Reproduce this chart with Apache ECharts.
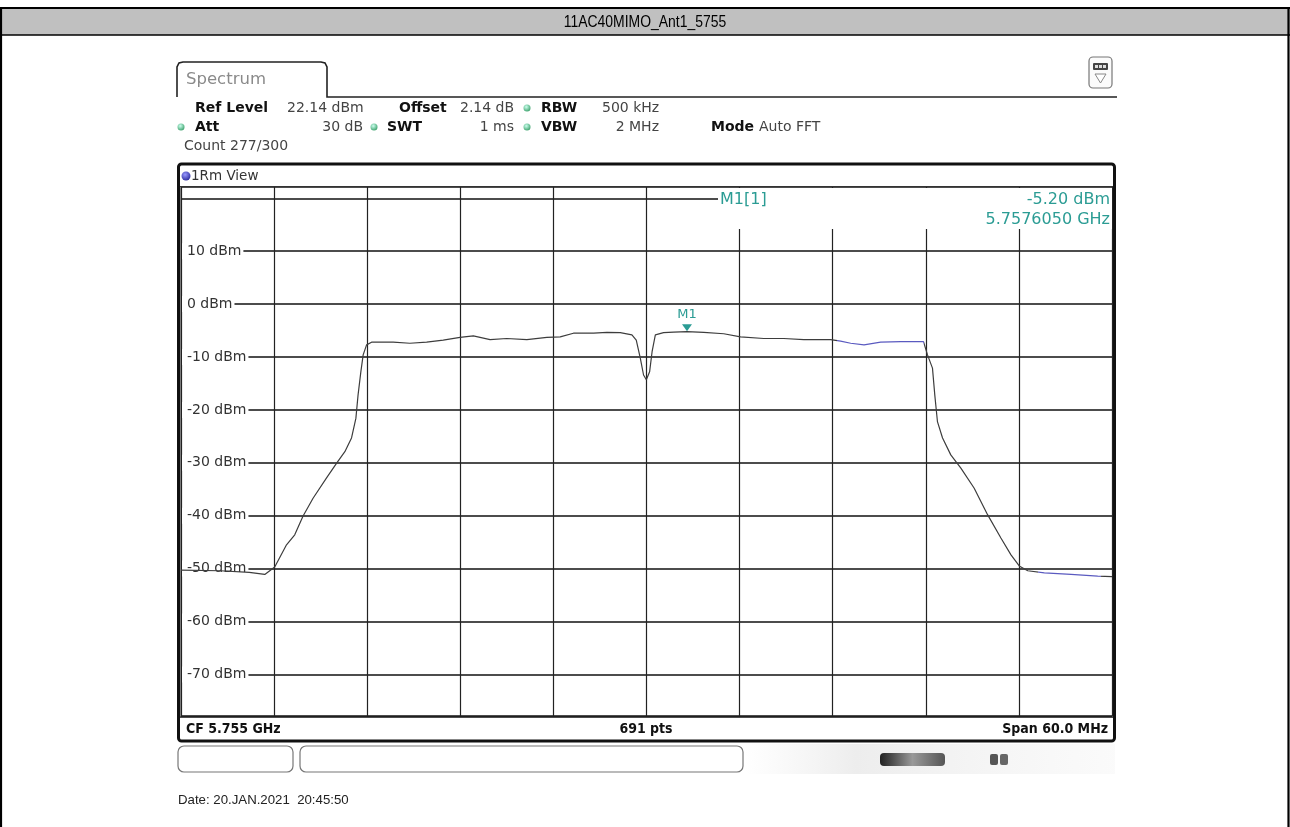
<!DOCTYPE html>
<html><head><meta charset="utf-8">
<script src="https://cdn.jsdelivr.net/npm/echarts@6/dist/echarts.min.js"></script>
<style>html,body{margin:0;padding:0;background:#fff}#c{width:1290px;height:827px}</style>
</head><body><div id="c"></div><script>
// ---- data ----
const chartTitle = '11AC40MIMO_Ant1_5755';
const freqOffsetMHz = [-30, -27.5, -25.6, -24.6, -23.96, -23.2, -22.67, -22.14, -21.49, -20.63,
  -19.98, -19.44, -19.01, -18.73, -18.59, -18.41, -18.26, -18.04, -17.72, -16.33,
  -15.25, -14.17, -13.1, -12.02, -11.16, -10.08, -9.01, -7.71, -6.42, -5.56,
  -4.71, -3.41, -2.55, -1.69, -0.94, -0.66, -0.4, -0.19, -0.01, 0.2,
  0.36, 0.57, 1.1, 1.75, 2.61, 3.69, 4.98, 6.06, 7.56, 8.85,
  10.14, 11.87, 12.51, 13.16, 14.02, 15.09, 16.39, 17.85, 18.11, 18.43,
  18.58, 18.75, 19.08, 19.61, 20.26, 21.12, 21.98, 22.84, 23.49, 24.02,
  24.57, 25.64, 27.36, 29.08, 30];
const levelDbm = [-50.3, -50.4, -50.7, -51.1, -49.7, -45.5, -43.6, -40.1, -36.7, -32.9,
  -30.1, -27.9, -25.3, -21.6, -17.2, -12.8, -9.6, -7.7, -7.2, -7.2,
  -7.4, -7.2, -6.8, -6.3, -6.0, -6.7, -6.5, -6.7, -6.3, -6.2,
  -5.5, -5.5, -5.35, -5.4, -5.8, -6.8, -10.2, -13.4, -14.3, -12.8,
  -9.0, -5.8, -5.4, -5.3, -5.2, -5.35, -5.6, -6.2, -6.5, -6.5,
  -6.7, -6.7, -7.0, -7.4, -7.7, -7.2, -7.1, -7.1, -9.6, -12.1,
  -17.2, -22.2, -25.3, -28.5, -31.0, -34.8, -39.8, -44.2, -47.4, -49.5,
  -50.4, -50.8, -51.1, -51.4, -51.5];
const yLabelValues = [10, 0, -10, -20, -30, -40, -50, -60, -70];
const refLevelDbm = 22.14;
const rangeDb = 100;
const spanMHz = 60;
const divMHz = 6;
const marker = { name: 'M1', offsetMHz: 2.61, level: -5.20, readLevel: '-5.20 dBm', readFreq: '5.7576050 GHz' };
const blueRangesMHz = [[12.3, 17.9], [25.2, 29.3]];
const infoTexts = {
  refLevel: '22.14 dBm', offset: '2.14 dB', rbw: '500 kHz', att: '30 dB', swt: '1 ms',
  vbw: '2 MHz', mode: 'Auto FFT', count: 'Count 277/300', view: '1Rm View',
  cf: 'CF 5.755 GHz', pts: '691 pts', span: 'Span 60.0 MHz', date: 'Date: 20.JAN.2021  20:45:50'
};

// ---- build ----
const traceData = freqOffsetMHz.map((f, i) => [f, levelDbm[i]]);
const TEAL = '#2b9c94';
const FONT = "'DejaVu Sans', sans-serif";
const COND = "'DejaVu Sans Condensed', 'DejaVu Sans', sans-serif";
const ARIAL = "'Liberation Sans', Arial, sans-serif";
const G = [];
function txt(x, y, t, font, fill, align, z, sx) {
  G.push({ type: 'text', x: x, y: y, z: z || 30, silent: true, scaleX: sx || 1,
    style: { text: t, font: font, fill: fill || '#222', align: align || 'left', verticalAlign: 'middle',
      textAlign: align || 'left', textVerticalAlign: 'middle' } });
}
function rect(x, y, w, h, style, r, z) {
  G.push({ type: 'rect', z: z || 20, silent: true, shape: { x: x, y: y, width: w, height: h, r: r || 0 }, style: style });
}
function line(x1, y1, x2, y2, stroke, lw, z) {
  G.push({ type: 'line', z: z || 20, silent: true, shape: { x1: x1, y1: y1, x2: x2, y2: y2 }, style: { stroke: stroke, lineWidth: lw } });
}
function dot(x, y, color, r) {
  G.push({ type: 'circle', z: 30, silent: true, shape: { cx: x, cy: y, r: r || 3.5 },
    style: { fill: { type: 'radial', x: 0.4, y: 0.35, r: 0.7, colorStops: [{ offset: 0, color: '#cfe' }, { offset: 1, color: color }] } } });
}

// outer table with title band
rect(0, 8, 1290, 27, { fill: '#c0c0c0' }, 0, 1);
line(0, 8, 1290, 8, '#000', 2.2, 2);
line(0, 35, 1290, 35, '#000', 1.6, 2);
line(1, 8, 1, 827, '#000', 2.2, 2);
line(1288.5, 8, 1288.5, 827, '#000', 2.2, 2);
txt(645, 22, chartTitle, '17px ' + ARIAL, '#000', 'center', 30, 0.82);

// spectrum tab
G.push({ type: 'polyline', z: 20, silent: true,
  shape: { points: [[177, 97], [177, 67], [179, 63], [183, 62], [321, 62], [325, 63], [327, 67], [327, 97], [1117, 97]] },
  style: { stroke: '#222', lineWidth: 1.6, fill: null } });
txt(186, 80, 'Spectrum', '16.5px ' + FONT, '#8a8a8a');
// top right icon
rect(1089, 57, 23, 31, { stroke: '#777', lineWidth: 1.2, fill: '#fbfbfb' }, 4);
rect(1093, 63, 15, 7, { fill: '#444' }, 1, 21);
rect(1095, 65, 3, 3, { fill: '#ddd' }, 0, 22);
rect(1099, 65, 3, 3, { fill: '#ddd' }, 0, 22);
rect(1103, 65, 3, 3, { fill: '#ddd' }, 0, 22);
G.push({ type: 'polygon', z: 22, silent: true, shape: { points: [[1095, 74], [1106, 74], [1100.5, 83]] }, style: { stroke: '#888', fill: '#fff', lineWidth: 1 } });

// info rows
const B = 'bold 14px ' + FONT, N = '14px ' + FONT;
txt(195, 108, 'Ref Level', B, '#111');
txt(287, 108, infoTexts.refLevel, N, '#444');
txt(399, 108, 'Offset', B, '#111');
txt(460, 108, infoTexts.offset, N, '#444');
dot(527, 108, '#3aa06a');
txt(541, 108, 'RBW', B, '#111');
txt(602, 108, infoTexts.rbw, N, '#444');
dot(181, 127, '#3aa06a');
txt(195, 127, 'Att', B, '#111');
txt(363, 127, infoTexts.att, N, '#444', 'right');
dot(374, 127, '#3aa06a');
txt(387, 127, 'SWT', B, '#111');
txt(514, 127, infoTexts.swt, N, '#444', 'right');
dot(527, 127, '#3aa06a');
txt(541, 127, 'VBW', B, '#111');
txt(659, 127, infoTexts.vbw, N, '#444', 'right');
txt(711, 127, 'Mode', B, '#111');
txt(759, 127, infoTexts.mode, N, '#444');
txt(184, 146, infoTexts.count, N, '#444');

// window frame
rect(178.5, 164, 936, 577, { stroke: '#111', lineWidth: 3, fill: null }, 3, 25);
line(179.5, 187, 179.5, 716, '#111', 2, 25);
G.push({ type: 'circle', z: 30, silent: true, shape: { cx: 186, cy: 176, r: 4.5 },
  style: { fill: { type: 'radial', x: 0.4, y: 0.35, r: 0.7, colorStops: [{ offset: 0, color: '#99f' }, { offset: 1, color: '#2a2a9a' }] } } });
txt(191, 176, infoTexts.view, '13.5px ' + FONT, '#333');
line(179, 186.5, 1114, 186.5, '#333', 1, 24);
line(179, 717, 1114, 717, '#111', 1.5, 24);
txt(186, 729, infoTexts.cf, 'bold 14px ' + COND, '#111');
txt(646, 729, infoTexts.pts, 'bold 14px ' + COND, '#111', 'center');
txt(1108, 729, infoTexts.span, 'bold 14px ' + COND, '#111', 'right');

// marker readout (covers grid)
rect(718, 188, 394, 41, { fill: '#fff' }, 0, 8);
txt(720, 200, 'M1[1]', '16px ' + FONT, TEAL);
txt(1110, 200, marker.readLevel, '16px ' + FONT, TEAL, 'right');
txt(1110, 220, marker.readFreq, '16px ' + FONT, TEAL, 'right');

// bottom widgets
rect(178, 746, 115, 26, { stroke: '#777', lineWidth: 1.2, fill: '#fff' }, 6);
rect(300, 746, 443, 26, { stroke: '#777', lineWidth: 1.2, fill: '#fff' }, 6);
rect(745, 744, 370, 30, { fill: { type: 'linear', x: 0, y: 0, x2: 1, y2: 0, colorStops: [{ offset: 0, color: 'rgba(230,230,230,0.0)' }, { offset: 0.3, color: 'rgba(225,225,225,0.6)' }, { offset: 1, color: 'rgba(240,240,240,0.3)' }] } }, 0, 5);
rect(880, 753, 65, 13, { fill: { type: 'linear', x: 0, y: 0, x2: 1, y2: 0, colorStops: [{ offset: 0, color: '#222' }, { offset: 0.15, color: '#444' }, { offset: 0.5, color: '#999' }, { offset: 1, color: '#555' }] } }, 4, 21);
rect(990, 754, 8, 11, { fill: '#555' }, 2, 21);
rect(1000, 754, 8, 11, { fill: '#666' }, 2, 21);
txt(178, 800, infoTexts.date, '13.5px ' + ARIAL, '#222', 'left', 30, 0.98);

const chart = echarts.init(document.getElementById('c'), null, { renderer: 'canvas' });
chart.setOption({
  animation: false,
  backgroundColor: '#fff',
  grid: { left: 181, top: 187, width: 931, height: 529, containLabel: false },
  xAxis: { type: 'value', min: -spanMHz / 2, max: spanMHz / 2, interval: divMHz,
    axisLine: { show: false }, axisTick: { show: false }, axisLabel: { show: false },
    splitLine: { show: true, lineStyle: { color: '#222', width: 1.2 } } },
  yAxis: { type: 'value', min: refLevelDbm - rangeDb, max: refLevelDbm, splitNumber: 10,
    axisLine: { show: false }, axisTick: { show: false },
    axisLabel: { inside: true, margin: 1, customValues: yLabelValues,
      formatter: v => v + ' dBm',
      fontFamily: FONT, fontSize: 14, color: '#333', backgroundColor: '#fff', padding: [1, 2, 1, 5], verticalAlign: 'middle' },
    splitLine: { show: true, lineStyle: { color: '#111', width: 1.5 } } },
  visualMap: { show: false, type: 'piecewise', dimension: 0, seriesIndex: 0,
    pieces: [
      { lt: blueRangesMHz[0][0], color: '#3d3d3d' },
      { gte: blueRangesMHz[0][0], lt: blueRangesMHz[0][1], color: '#5a5ac0' },
      { gte: blueRangesMHz[0][1], lt: blueRangesMHz[1][0], color: '#3d3d3d' },
      { gte: blueRangesMHz[1][0], lt: blueRangesMHz[1][1], color: '#5a5ac0' },
      { gte: blueRangesMHz[1][1], color: '#3d3d3d' }
    ] },
  series: [{
    type: 'line', data: traceData, showSymbol: false, symbol: 'none', z: 5,
    lineStyle: { width: 1.2 },
    markPoint: { symbol: 'triangle', symbolRotate: 180, symbolSize: [10, 7], symbolOffset: [0, -4],
      itemStyle: { color: TEAL },
      label: { show: true, position: 'top', distance: 3, formatter: marker.name, color: TEAL, fontFamily: FONT, fontSize: 13 },
      data: [{ coord: [marker.offsetMHz, marker.level], itemStyle: { color: TEAL } }] }
  }],
  graphic: { elements: G }
});
</script></body></html>
